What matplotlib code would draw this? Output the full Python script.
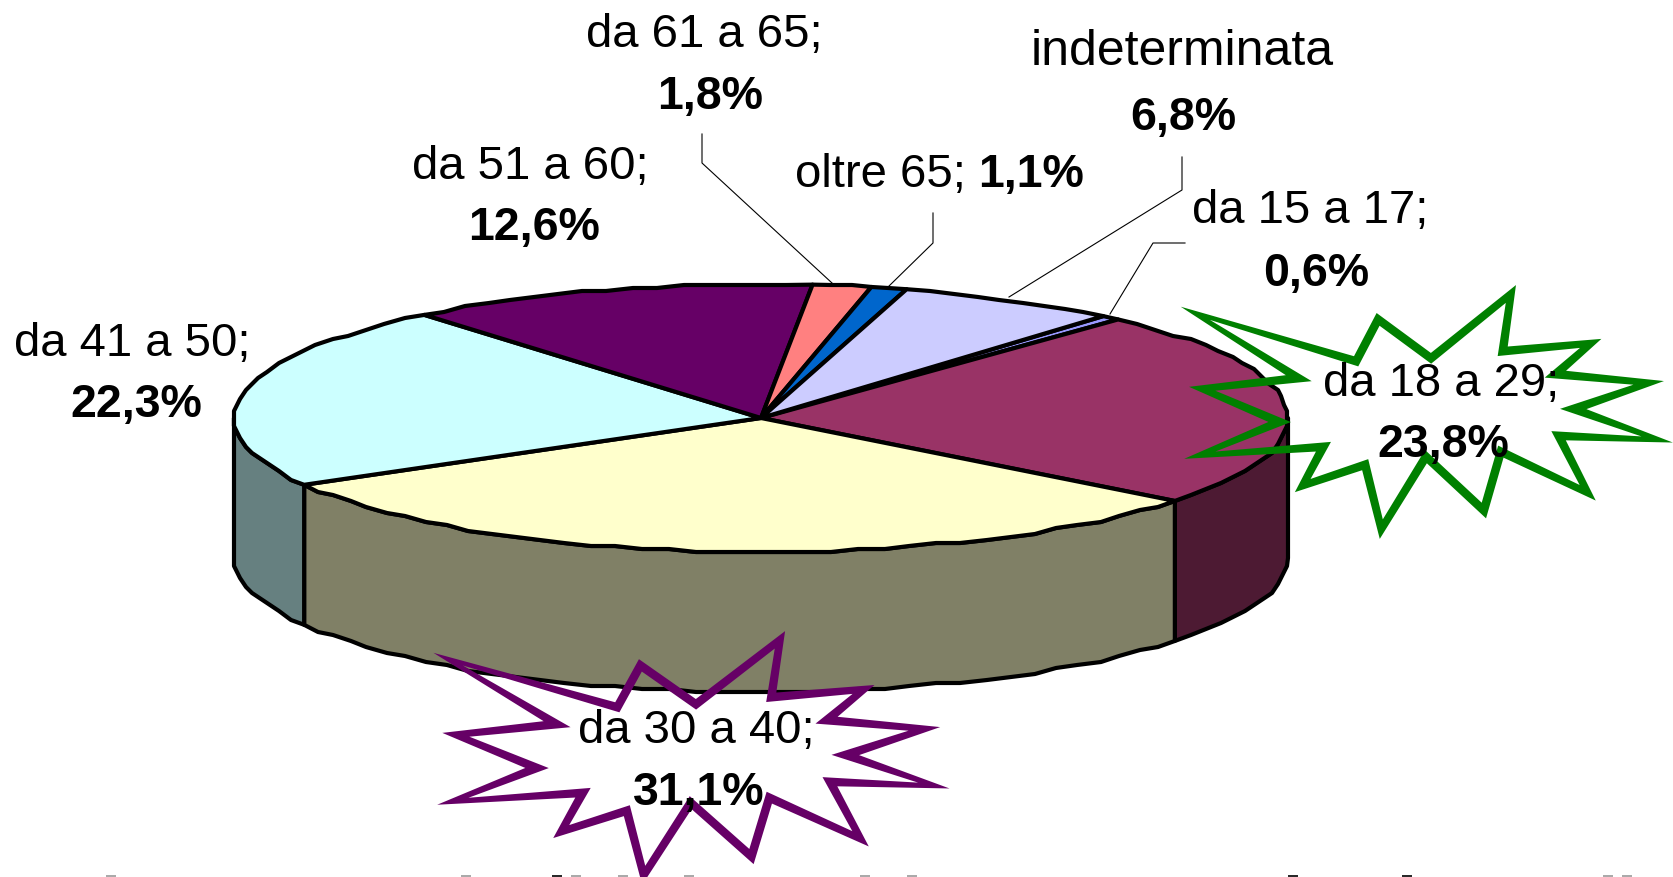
import numpy as np
from matplotlib import pyplot as plt
from matplotlib.patches import PathPatch, Polygon
from matplotlib.path import Path

plt.rcParams["font.family"] = ["Liberation Sans", "DejaVu Sans"]

# Fasce di eta, in senso orario a partire da "da 15 a 17"
categories = ["da 15 a 17;", "da 18 a 29;", "da 30 a 40;", "da 41 a 50;",
              "da 51 a 60;", "da 61 a 65;", "oltre 65;", "indeterminata"]
percent = [0.6, 23.8, 31.1, 22.3, 12.6, 1.8, 1.1, 6.8]
percent_labels = ["0,6%", "23,8%", "31,1%", "22,3%", "12,6%", "1,8%", "1,1%", "6,8%"]
top_colors = ["#9999FF", "#993366", "#FFFFCC", "#CCFFFF",
              "#660066", "#FF8080", "#0066CC", "#CCCCFF"]

# Geometria del disco (pixel)
cx, cy = 761, 418
rx, ry = 527, 134
depth = 140
start_angle = 49.5

# Posizione delle etichette: nome (x, y), percentuale (x, y)
name_pos = [(1310, 211), (1441, 384), (696, 731), (132, 344),
            (530, 167), (704, 35), (880, 175), (1182, 52)]
value_pos = [(1316, 274), (1443, 445), (699, 793), (136, 405),
             (534, 228), (710, 97), (1031, 175), (1183, 118)]

leaders = [
    [(1185, 243), (1153, 243), (1110, 314)],
    [(702, 134), (702, 163), (832, 283)],
    [(933, 213), (933, 243), (888, 287)],
    [(1182, 157), (1182, 190), (1009, 297)],
]

# Stella di evidenziazione (punte negli indici pari, valli nei dispari)
star_x = [1188, 1356, 1378, 1431, 1512, 1503, 1594, 1556, 1656, 1574, 1665, 1559,
          1590, 1501, 1484, 1426, 1381, 1365, 1301, 1323, 1192, 1279, 1197, 1298]
star_y = [310, 361, 319, 358, 292, 351, 342, 374, 382, 409, 441, 436,
          495, 452, 511, 457, 531, 465, 487, 447, 457, 422, 388, 378]

heading_x = [111, 466, 557, 576, 623, 689, 865, 912, 1293, 1407, 1608, 1627]
heading_gray = ["#999999", "#999999", "black", "#999999", "#999999", "#999999",
                "#999999", "#999999", "black", "black", "#999999", "#999999"]


def ellipse(a0, a1):
    # contorno leggermente a scalini, come nell'originale a bassa risoluzione
    n = max(2, int(abs(a1 - a0) / 3) + 2)
    a = np.radians(np.linspace(a0, a1, n))
    x = cx + rx * np.cos(a)
    y = cy - ry * np.sin(a)
    x[1:-1] = np.round(x[1:-1] / 3) * 3
    y[1:-1] = np.round(y[1:-1] / 3) * 3
    return x, y


def offset_outline(x, y, dist, limit):
    # sposta ogni vertice lungo la bisettrice, per avere punte acute
    pts = np.c_[x, y]
    prev_dir = pts - np.roll(pts, 1, axis=0)
    next_dir = np.roll(pts, -1, axis=0) - pts
    prev_dir /= np.linalg.norm(prev_dir, axis=1, keepdims=True)
    next_dir /= np.linalg.norm(next_dir, axis=1, keepdims=True)
    normal = np.c_[prev_dir[:, 1], -prev_dir[:, 0]] + np.c_[next_dir[:, 1], -next_dir[:, 0]]
    normal /= np.linalg.norm(normal, axis=1, keepdims=True)
    cos_half = (normal * np.c_[prev_dir[:, 1], -prev_dir[:, 0]]).sum(axis=1)
    shift = np.clip(dist / cos_half, -limit, limit)
    return pts + normal * shift[:, None]


def draw_star(x, y, color):
    tip_limit = np.where(np.arange(len(x)) % 2 == 0, 8, 22)
    outer = offset_outline(x, y, 4, tip_limit)
    inner = offset_outline(x, y, -4.5, 24)
    verts = np.r_[outer, outer[:1], inner[::-1], inner[-1:]]
    codes = ([Path.MOVETO] + [Path.LINETO] * (len(outer) - 1) + [Path.CLOSEPOLY]) * 2
    ax.add_patch(PathPatch(Path(verts, codes), facecolor=color, edgecolor="none", zorder=4))


fig = plt.figure(figsize=(16.74, 8.77), dpi=100)
ax = fig.add_axes([0, 0, 1, 1])
ax.set_xlim(0, 1674)
ax.set_ylim(877, 0)
ax.axis("off")

shares = np.array(percent) / sum(percent) * 360
ends = start_angle - np.cumsum(shares)
starts = ends + shares

# Pareti laterali (solo la meta anteriore del disco)
for a0, a1, color in zip(starts, ends, top_colors):
    for shift in (0, -360):
        lo = min(a0 + shift, -0.0)
        hi = max(a1 + shift, -180)
        if lo <= hi:
            continue
        x, y = ellipse(lo, hi)
        pts = np.r_[np.c_[x, y], np.c_[x[::-1], y[::-1] + depth]]
        shade = np.array(plt.matplotlib.colors.to_rgb(color)) * 0.5
        ax.add_patch(Polygon(pts, closed=True, facecolor=shade, edgecolor="black",
                             linewidth=3, joinstyle="round", zorder=2))

# Spicchi superiori
for a0, a1, color in zip(starts, ends, top_colors):
    x, y = ellipse(a0, a1)
    pts = np.r_[[(cx, cy)], np.c_[x, y]]
    ax.add_patch(Polygon(pts, closed=True, facecolor=color, edgecolor="black",
                         linewidth=3, joinstyle="round", zorder=3))

for line in leaders:
    xs, ys = zip(*line)
    ax.plot(xs, ys, color="black", linewidth=0.8, zorder=2)

# Le due stelle non sono riempite
sx = np.array(star_x, dtype=float)
sy = np.array(star_y, dtype=float)
draw_star(sx, sy, "#008000")
draw_star(445 + 1.05 * (sx - 1192), sy + 346, "#660066")

for i, name in enumerate(categories):
    size = 36 if name == "indeterminata" else 34
    ax.text(*name_pos[i], name, fontsize=size, ha="center", va="center", zorder=5)
    ax.text(*value_pos[i], percent_labels[i], fontsize=33.5, fontweight="bold",
            ha="center", va="center", zorder=5)

# Cime del titolo tagliato dal bordo inferiore
for x, color in zip(heading_x, heading_gray):
    ax.plot([x - 5, x + 5], [876, 876], color=color, linewidth=1.2, solid_capstyle="butt")

fig.savefig("out.png", dpi=100)
